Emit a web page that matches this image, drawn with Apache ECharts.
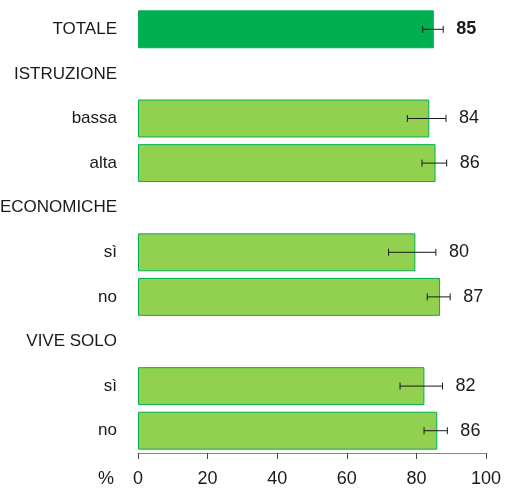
<!DOCTYPE html>
<html>
<head>
<meta charset="utf-8">
<script src="https://cdn.jsdelivr.net/npm/echarts@6/dist/echarts.min.js"></script>
<style>
  html, body { margin: 0; padding: 0; background: #fff; }
  #chart { width: 516px; height: 488px; }
</style>
</head>
<body>
<div id="chart"></div>
<script>
// categorie (le voci senza valore sono intestazioni di gruppo)
const categories = ['TOTALE', 'ISTRUZIONE', 'bassa', 'alta', 'DIFFICOLTÀ ECONOMICHE', 'sì', 'no', 'VIVE SOLO', 'sì ', 'no ']
const barValues = [85.0, null, 83.7, 85.5, null, 79.7, 86.8, null, 82.3, 86.0]
const errLow = [81.8, null, 77.4, 81.6, null, 72.0, 83.1, null, 75.3, 82.2]
const errHigh = [87.7, null, 88.5, 88.7, null, 85.6, 89.7, null, 87.5, 88.9]
const valueLabels = ['85', '', '84', '86', '', '80', '87', '', '82', '86']
const xTicks = [0, 20, 40, 60, 80, 100]

const FONT = 'Liberation Sans'
const chart = echarts.init(document.getElementById('chart'), null, { renderer: 'canvas' })

const barData = barValues.map((v, i) => {
  if (v === null) return '-'
  return {
    value: v,
    itemStyle: { color: i === 0 ? '#00b050' : '#92d050' }
  }
})

const errData = barValues.map((v, i) => {
  if (v === null) return null
  return [i, errLow[i], errHigh[i], valueLabels[i]]
}).filter(d => d)

const option = {
  animation: false,
  grid: { left: 138, right: 30, top: 7, bottom: 35, outerBoundsMode: 'none', containLabel: false },
  xAxis: {
    type: 'value',
    min: xTicks[0],
    max: xTicks[xTicks.length - 1],
    interval: 20,
    splitLine: { show: false },
    axisLine: { show: true, lineStyle: { color: '#888', width: 1 } },
    axisTick: { show: true, inside: false, length: 6, lineStyle: { color: '#444' } },
    axisLabel: { color: '#1a1a1a', fontSize: 18, fontFamily: FONT, margin: 17 },
    name: '%',
    nameLocation: 'start',
    nameGap: 24,
    nameTextStyle: { color: '#1a1a1a', fontSize: 18, fontFamily: FONT, verticalAlign: 'top', padding: [17, 0, 0, 0] }
  },
  yAxis: {
    type: 'category',
    data: categories,
    inverse: true,
    axisLine: { show: false },
    axisTick: { show: false },
    axisLabel: {
      color: '#1a1a1a', fontSize: 17, fontFamily: FONT, margin: 21,
      formatter: v => v.trim()
    }
  },
  series: [
    {
      type: 'bar',
      data: barData,
      barCategoryGap: '15%',
      itemStyle: { borderColor: '#00b050', borderWidth: 1 }
    },
    {
      // barre di errore + etichette dei valori
      type: 'custom',
      data: errData,
      encode: { y: 0, x: [1, 2] },
      renderItem: function (params, api) {
        const cat = api.value(0)
        const lo = api.coord([api.value(1), cat])
        const hi = api.coord([api.value(2), cat])
        const y = lo[1]
        const cap = 3.5
        const lineStyle = { stroke: '#1a1a1a', lineWidth: 1 }
        return {
          type: 'group',
          children: [
            { type: 'line', shape: { x1: lo[0], y1: y, x2: hi[0], y2: y }, style: lineStyle },
            { type: 'line', shape: { x1: lo[0], y1: y - cap, x2: lo[0], y2: y + cap }, style: lineStyle },
            { type: 'line', shape: { x1: hi[0], y1: y - cap, x2: hi[0], y2: y + cap }, style: lineStyle },
            {
              type: 'text',
              style: {
                x: hi[0] + 13, y: y,
                text: api.value(3),
                fill: '#1a1a1a',
                font: (cat === 0 ? 'bold ' : '') + '18px ' + FONT,
                verticalAlign: 'middle', align: 'left'
              }
            }
          ]
        }
      },
      z: 10
    }
  ]
}

chart.setOption(option)
</script>
</body>
</html>
